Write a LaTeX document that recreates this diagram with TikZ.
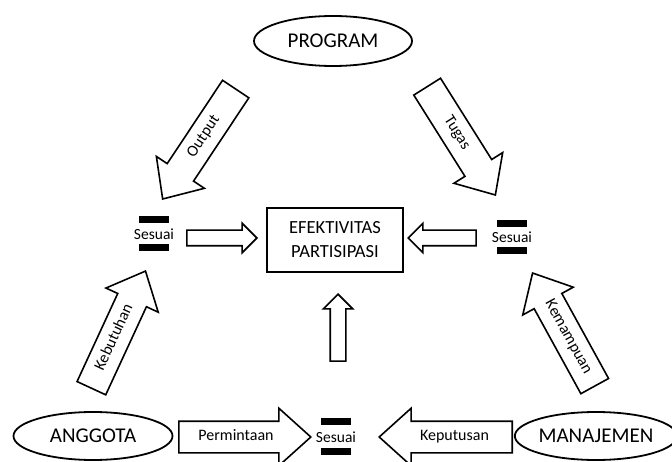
\documentclass[tikz,border=0pt]{standalone}
\usepackage{fontspec}
\setmainfont{Carlito}
\usetikzlibrary{shapes.geometric,shapes.arrows}
\begin{document}
\begin{tikzpicture}[x=1pt,y=-1pt,
  oval/.style={draw,line width=1.8pt,ellipse,inner sep=0pt,minimum width=158pt,minimum height=50pt,font=\fontsize{21}{25}\selectfont},
  mainbox/.style={draw,line width=1.8pt,minimum width=136pt,minimum height=64pt,align=center,inner sep=0pt,font=\fontsize{18.5}{24}\selectfont},
  sesuai/.style={inner sep=0pt,font=\fontsize{15.5}{18}\selectfont},
  bar/.style={fill=black,inner sep=0pt,minimum width=30pt,minimum height=7pt},
  bigarrow/.style={draw,line width=1.6pt,single arrow,single arrow head extend=13pt,single arrow tip angle=84,text height=10pt,text depth=3pt,inner ysep=8.5pt,inner xsep=4pt,font=\fontsize{16}{19}\selectfont,anchor=tip},
  smallarrow/.style={draw,line width=1.6pt,single arrow,single arrow head extend=7pt,inner ysep=7pt,inner xsep=0pt,text height=0pt,text depth=0pt,anchor=tip}
]
\useasboundingbox (0,0) rectangle (672,462);
% ovals
\node[oval] (prog) at (333,41) {PROGRAM};
\node[oval,minimum width=159pt,minimum height=48pt] (angg) at (93,436) {ANGGOTA};
\node[oval,minimum width=154pt,minimum height=48pt] (manj) at (596,436) {MANAJEMEN};
% central box
\node[mainbox] (efek) at (335,240) {EFEKTIVITAS\\PARTISIPASI};
% sesuai marks
\node[sesuai] (sesL) at (154,234) {Sesuai};
\node[bar] (sesLt) at (154,220) {};
\node[bar] (sesLb) at (154,248) {};
\node[sesuai] (sesR) at (512,237) {Sesuai};
\node[bar] (sesRt) at (512,224) {};
\node[bar] (sesRb) at (512,251) {};
\node[sesuai] (sesB) at (336,437) {Sesuai};
\node[bar] (sesBt) at (336,421) {};
\node[bar] (sesBb) at (336,451) {};
% big arrows
\node[bigarrow,rotate=56.4,shape border rotate=180,minimum height=132pt] (aOut) at (162,200) {Output};
\node[bigarrow,rotate=-57.8,minimum height=128pt] (aTug) at (496,196) {Tugas};
\node[bigarrow,rotate=65.2,minimum height=129pt] (aKeb) at (146,270) {Kebutuhan};
\node[bigarrow,rotate=-61.2,shape border rotate=180,minimum height=129pt] (aKem) at (532,272) {Kemampuan};
\node[bigarrow,minimum height=132pt] (aPer) at (312,437) {Permintaan};
\node[bigarrow,shape border rotate=180,minimum height=133pt] (aKep) at (378,437) {Keputusan};
% small arrows
\node[smallarrow,minimum height=70pt] (aL) at (258,238) {};
\node[smallarrow,shape border rotate=180,minimum height=68pt] (aR) at (407,238) {};
\node[smallarrow,rotate=90,minimum height=67pt] (aU) at (338,293) {};
\end{tikzpicture}
\end{document}
